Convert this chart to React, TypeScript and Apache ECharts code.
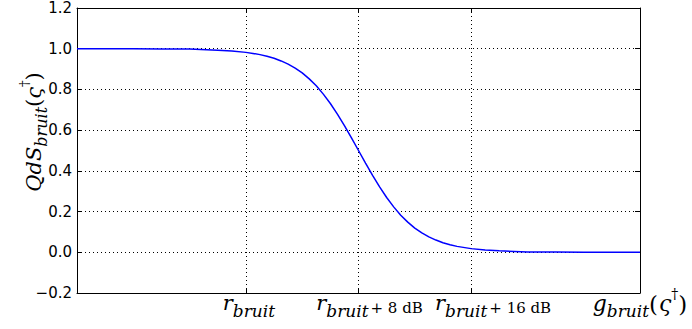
import React, { useEffect, useRef } from "react";
import * as echarts from "echarts";

// x: offset in dB relative to r_bruit ; y: QdS_bruit
const dbOffsets = [-12, -10, -8, -6, -4, -2, -1, 0, 0.5, 1, 1.5, 2, 2.5, 3, 3.5, 4, 4.5, 5, 5.5, 6, 6.5, 7, 7.5, 8, 8.5, 9, 9.5, 10, 10.5, 11, 11.5, 12, 12.5, 13, 13.5, 14, 14.5, 15, 16, 17, 18, 20, 22, 24, 26, 28];
const qdsValues = [1.0, 1.0, 1.0, 0.999, 0.998, 0.993, 0.989, 0.982, 0.977, 0.971, 0.963, 0.953, 0.94, 0.924, 0.905, 0.881, 0.852, 0.818, 0.777, 0.731, 0.679, 0.622, 0.562, 0.5, 0.438, 0.378, 0.321, 0.269, 0.223, 0.182, 0.148, 0.119, 0.095, 0.076, 0.06, 0.047, 0.037, 0.029, 0.018, 0.011, 0.007, 0.002, 0.001, 0.0, 0.0, 0.0];

const xMin = -12;
const xMax = 28;
const xTickValues = [0, 8, 16];
const xTickSuffixes = ["", "+ 8 dB", "+ 16 dB"];
const xEndLabelValue = 28;

const yMin = -0.2;
const yMax = 1.2;
const yStep = 0.2;

const SERIF = "DejaVu Serif";
const SANS = "DejaVu Sans";

export default function App() {
  const ref = useRef<HTMLDivElement>(null);

  useEffect(() => {
    if (!ref.current) return;
    const chart = echarts.init(ref.current, undefined, { renderer: "svg" });

    const data = dbOffsets.map((x, i) => [x, qdsValues[i]]);

    const mainStyle = (padLeft: number, size = 21) => ({
      fontFamily: SERIF,
      fontStyle: "italic",
      fontSize: size,
      lineHeight: 14,
      verticalAlign: "top",
      color: "#000",
      padding: [5, 0, 0, padLeft],
    });

    const rich: any = {
      r0: mainStyle(6),
      r8: mainStyle(22),
      r16: mainStyle(44),
      g: mainStyle(0, 22),
      gr: mainStyle(1, 22),
      s: { fontFamily: SERIF, fontStyle: "italic", fontSize: 17, lineHeight: 16, verticalAlign: "top", color: "#000", padding: [15, 0, 0, 0] },
      p: { fontFamily: SERIF, fontSize: 15, lineHeight: 14, verticalAlign: "top", color: "#000", padding: [13, 0, 0, 2] },
      par: { fontFamily: SERIF, fontSize: 23, lineHeight: 14, verticalAlign: "top", color: "#000", padding: [5, 0, 0, 0] },
      dag: { fontFamily: SERIF, fontSize: 14, lineHeight: 13, verticalAlign: "top", color: "#000", padding: [0, 0, 0, 0] },
    };

    const xLabel = (v: number) => {
      const idx = xTickValues.indexOf(v);
      if (idx >= 0) {
        const key = "r" + v;
        const suf = xTickSuffixes[idx];
        return `{${key}|r}{s|bruit}` + (suf ? `{p|${suf}}` : "");
      }
      if (v === xEndLabelValue) {
        return "{g|g}{s|bruit}{par|(}{gr|ς}{dag|†}{par|)}";
      }
      return "";
    };

    const yLabelRich: any = {
      m: { fontFamily: SERIF, fontStyle: "italic", fontSize: 21, lineHeight: 16, verticalAlign: "top", fill: "#000", padding: [5, 0, 0, 0] },
      s: { fontFamily: SERIF, fontStyle: "italic", fontSize: 16, lineHeight: 16, verticalAlign: "top", fill: "#000", padding: [15, 0, 0, 0] },
      par: { fontFamily: SERIF, fontSize: 21, lineHeight: 16, verticalAlign: "top", fill: "#000", padding: [5, 0, 0, 0] },
      dag: { fontFamily: SERIF, fontSize: 13, lineHeight: 14, verticalAlign: "top", fill: "#000", padding: [0, 0, 0, 0] },
    };

    chart.setOption({
      animation: false,
      backgroundColor: "#fff",
      grid: { left: 77, right: 52, top: 8, bottom: 36, containLabel: false, outerBoundsMode: "none" },
      xAxis: [
        {
          type: "value",
          min: xMin,
          max: xMax,
          interval: 4,
          position: "bottom",
          axisLine: { show: true, onZero: false, lineStyle: { color: "#000", width: 1 } },
          axisTick: { show: true, inside: true, length: 5, customValues: xTickValues, lineStyle: { color: "#000" } },
          axisLabel: {
            show: true,
            margin: -6,
            customValues: [...xTickValues, xEndLabelValue],
            formatter: xLabel,
            rich,
          },
          splitLine: { show: false },
        },
        {
          type: "value",
          min: xMin,
          max: xMax,
          interval: 4,
          position: "top",
          axisLine: { show: true, onZero: false, lineStyle: { color: "#000", width: 1 } },
          axisTick: { show: true, inside: true, length: 5, customValues: xTickValues, lineStyle: { color: "#000" } },
          axisLabel: { show: false },
          splitLine: { show: false },
        },
      ],
      yAxis: [
        {
          type: "value",
          min: yMin,
          max: yMax,
          interval: yStep,
          position: "left",
          axisLine: { show: true, onZero: false, lineStyle: { color: "#000", width: 1 } },
          axisTick: { show: true, inside: true, length: 5, lineStyle: { color: "#000" } },
          axisLabel: {
            margin: 5,
            fontFamily: SANS,
            fontSize: 15,
            color: "#000",
            formatter: (v: number) => {
              const s = Math.abs(v) < 1e-9 ? "0.0" : v.toFixed(1);
              return s.replace("-", "\u2212");
            },
          },
          splitLine: { show: true, lineStyle: { color: "#000", type: [1, 3], width: 1 } },
        },
        {
          type: "value",
          min: yMin,
          max: yMax,
          interval: yStep,
          position: "right",
          axisLine: { show: true, onZero: false, lineStyle: { color: "#000", width: 1 } },
          axisTick: { show: true, inside: true, length: 5, lineStyle: { color: "#000" } },
          axisLabel: { show: false },
          splitLine: { show: false },
        },
      ],
      series: [
        {
          type: "line",
          xAxisIndex: 0,
          yAxisIndex: 0,
          data,
          smooth: false,
          showSymbol: false,
          symbol: "none",
          lineStyle: { color: "#0000ff", width: 1.5 },
          z: 5,
          markLine: {
            silent: true,
            symbol: ["none", "none"],
            label: { show: false },
            lineStyle: { color: "#000", type: [1, 3], width: 1 },
            data: xTickValues.map((v) => ({ xAxis: v })),
            z: 1,
          },
        },
      ],
      graphic: [
        {
          type: "text",
          x: 26,
          y: 132,
          rotation: Math.PI / 2,
          style: {
            text: "{m|QdS}{s|bruit}{par|(}{m|ς}{dag|†}{par|)}",
            rich: yLabelRich,
            align: "center",
            verticalAlign: "middle",
            fill: "#000",
          },
        },
      ],
    });

    return () => chart.dispose();
  }, []);

  return (
    <div
      ref={ref}
      style={{ position: "fixed", left: 0, top: 0, width: 692, height: 329 }}
    />
  );
}
